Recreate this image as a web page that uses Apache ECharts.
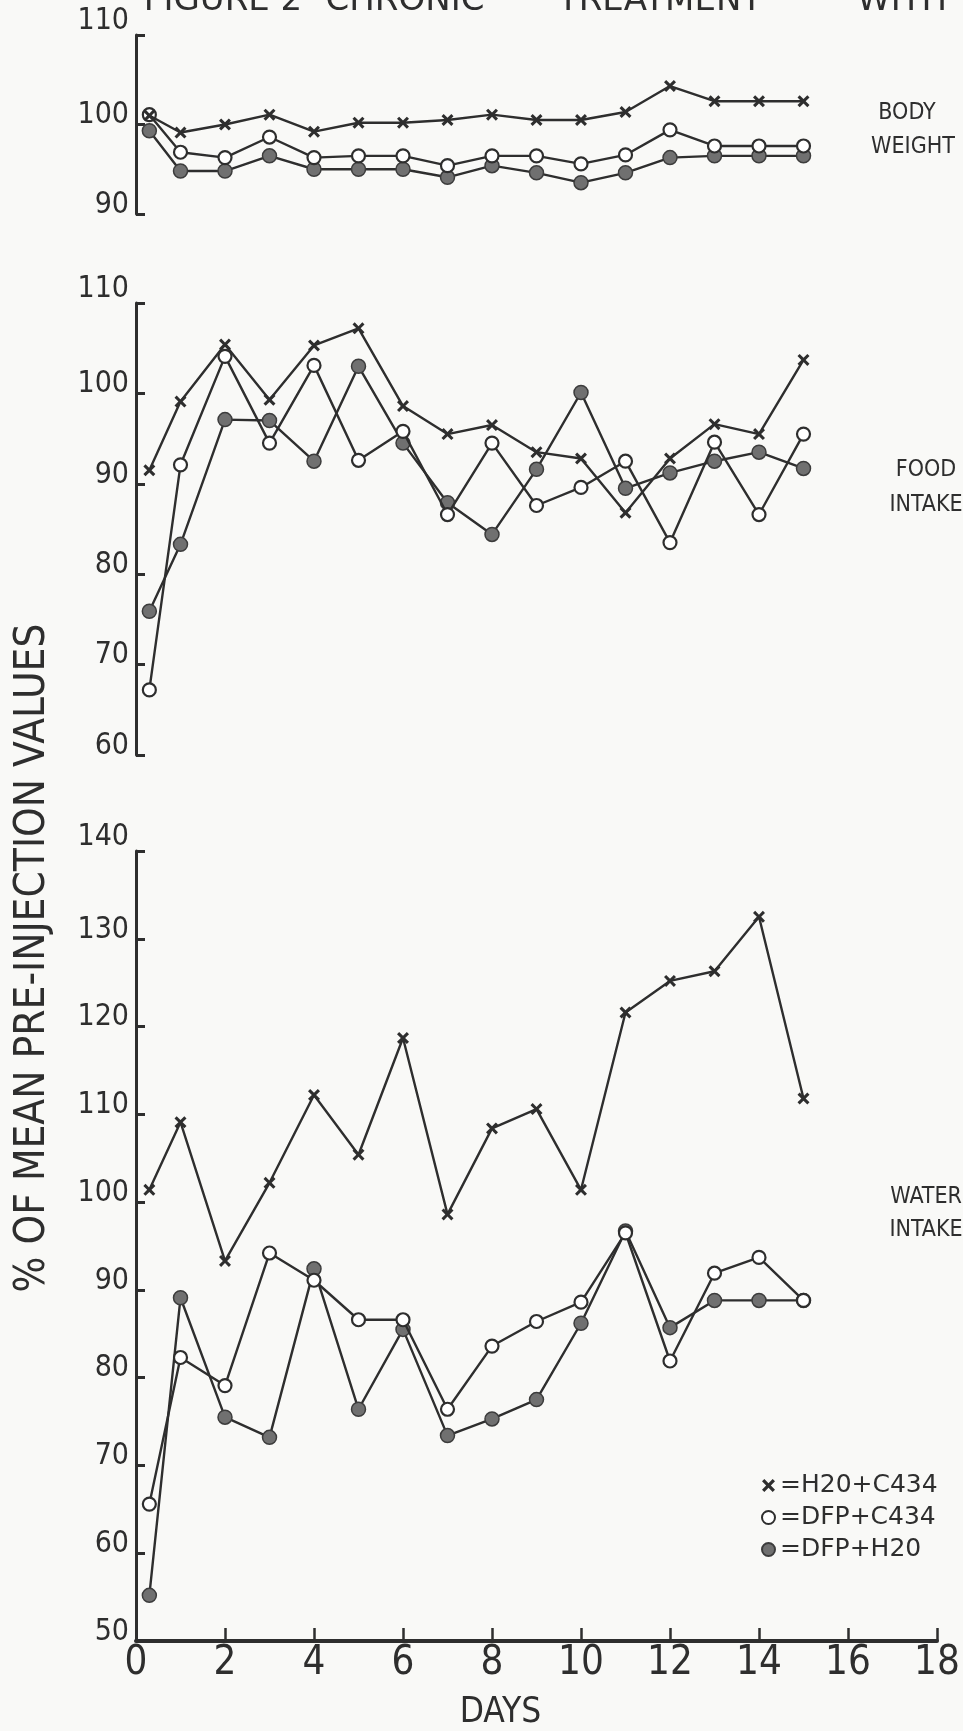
<!DOCTYPE html>
<html><head><meta charset="utf-8">
<script src="https://cdn.jsdelivr.net/npm/echarts@6/dist/echarts.min.js"></script>
<style>html,body{margin:0;padding:0;background:#f9f9f7}#c{width:963px;height:1731px}</style>
</head><body><div id="c"></div>
<script>
// ---- data ----
const days = [0.3, 1, 2, 3, 4, 5, 6, 7, 8, 9, 10, 11, 12, 13, 14, 15];
const seriesNames = ['H20+C434', 'DFP+C434', 'DFP+H20'];
const titleWords = ['FIGURE 2', 'CHRONIC', 'TREATMENT', 'WITH'];
const panelLabels = [['BODY', 'WEIGHT'], ['FOOD', 'INTAKE'], ['WATER', 'INTAKE']];
const yAxisTitle = '% OF MEAN PRE-INJECTION VALUES';
const xAxisTitle = 'DAYS';

const bodyH2OC434 = [101.0, 99.1, 100.0, 101.1, 99.2, 100.2, 100.2, 100.5, 101.1, 100.5, 100.5, 101.4, 104.3, 102.6, 102.6, 102.6];
const bodyDFPC434 = [101.1, 96.9, 96.3, 98.6, 96.3, 96.5, 96.5, 95.4, 96.5, 96.5, 95.6, 96.6, 99.4, 97.6, 97.6, 97.6];
const bodyDFPH2O  = [99.3, 94.8, 94.8, 96.5, 95.0, 95.0, 95.0, 94.1, 95.4, 94.6, 93.5, 94.6, 96.3, 96.5, 96.5, 96.5];

const foodH2OC434 = [91.5, 99.1, 105.4, 99.3, 105.3, 107.2, 98.6, 95.5, 96.5, 93.5, 92.8, 86.8, 92.8, 96.6, 95.5, 103.7];
const foodDFPC434 = [67.2, 92.1, 104.1, 94.5, 103.1, 92.6, 95.8, 86.6, 94.5, 87.6, 89.6, 92.5, 83.5, 94.6, 86.6, 95.5];
const foodDFPH2O  = [75.9, 83.3, 97.1, 97.0, 92.5, 103.0, 94.5, 87.9, 84.4, 91.6, 100.1, 89.5, 91.2, 92.5, 93.5, 91.7];

const waterH2OC434 = [101.4, 109.1, 93.3, 102.2, 112.2, 105.4, 118.7, 98.6, 108.4, 110.6, 101.4, 121.6, 125.2, 126.3, 132.5, 111.8];
const waterDFPC434 = [65.6, 82.3, 79.1, 94.2, 91.1, 86.6, 86.6, 76.4, 83.6, 86.4, 88.6, 96.5, 81.9, 91.9, 93.7, 88.8];
const waterDFPH2O  = [55.2, 89.1, 75.5, 73.2, 92.4, 76.4, 85.5, 73.4, 75.3, 77.5, 86.2, 96.7, 85.7, 88.8, 88.8, 88.8];

// ---- styling ----
const INK = '#2e2e2e';
const BG = '#f9f9f7';
const NARROW = "'DejaVu Sans Condensed','Liberation Sans Narrow',sans-serif";
const WIDE = "'DejaVu Sans','Liberation Sans',sans-serif";
const X_SYM = 'path://M0,1.8L1.8,0L5,3.2L8.2,0L10,1.8L6.8,5L10,8.2L8.2,10L5,6.8L1.8,10L0,8.2L3.2,5Z';

function pts(vals) { return days.map((d, i) => [d, vals[i]]); }
function mk(nameIdx, vals, g) {
  const s = {
    type: 'line', name: seriesNames[nameIdx], xAxisIndex: g, yAxisIndex: g,
    data: pts(vals), showSymbol: true, animation: false, silent: true,
    lineStyle: { color: INK, width: 2.4 }
  };
  if (nameIdx === 0) { s.symbol = X_SYM; s.symbolSize = 12; s.itemStyle = { color: INK }; s.z = 4; }
  if (nameIdx === 1) { s.symbol = 'circle'; s.symbolSize = 13; s.itemStyle = { color: '#ffffff', borderColor: INK, borderWidth: 2.2 }; s.z = 3; }
  if (nameIdx === 2) { s.symbol = 'circle'; s.symbolSize = 14; s.itemStyle = { color: '#707070', borderColor: '#3c3c3c', borderWidth: 1.5 }; s.z = 2; }
  return s;
}

const grids = [
  { left: 136, right: 26, top: 35, height: 179 },
  { left: 136, right: 26, top: 303, height: 452 },
  { left: 136, right: 26, top: 851, height: 809 }
];
const yRanges = [[90, 110], [60, 110], [50, 140]];

const yAxes = yRanges.map((r, i) => ({
  type: 'value', gridIndex: i, min: r[0], max: r[1], interval: 10,
  axisLine: { show: true, lineStyle: { color: INK, width: 3 } },
  axisTick: { show: true, inside: true, length: 9, lineStyle: { color: INK, width: 3 } },
  splitLine: { show: false },
  axisLabel: {
    color: INK, fontSize: 30, fontFamily: NARROW, margin: 7,
    formatter: v => (v === r[1] ? '{t|' + v + '}' : '{n|' + v + '}'),
    rich: {
      t: { fontSize: 30, fontFamily: NARROW, color: INK, padding: [0, 0, 28, 0] },
      n: { fontSize: 30, fontFamily: NARROW, color: INK, padding: [0, 0, 18, 0] }
    }
  }
}));

const xAxes = [0, 1, 2].map(i => ({
  type: 'value', gridIndex: i, min: 0, max: 18, interval: 2,
  show: i === 2,
  axisLine: { show: true, lineStyle: { color: INK, width: 4 } },
  axisTick: { show: true, inside: true, length: 13, lineStyle: { color: INK, width: 2.5 } },
  splitLine: { show: false },
  axisLabel: { color: INK, fontSize: 40, fontFamily: NARROW, margin: 3 },
  name: i === 2 ? xAxisTitle : '', nameLocation: 'middle', nameGap: 54,
  nameTextStyle: { color: INK, fontSize: 35, fontFamily: NARROW, padding: [0, 72, 0, 0] }
}));

const series = [
  mk(2, bodyDFPH2O, 0), mk(1, bodyDFPC434, 0), mk(0, bodyH2OC434, 0),
  mk(2, foodDFPH2O, 1), mk(1, foodDFPC434, 1), mk(0, foodH2OC434, 1),
  mk(2, waterDFPH2O, 2), mk(1, waterDFPC434, 2), mk(0, waterH2OC434, 2)
];

const titleX = [223, 405, 660, 902];
const labelPos = [[[907, 113], [913, 147]], [[926, 470], [926, 505]], [[926, 1197], [926, 1230]]];
const graphics = [];
titleWords.forEach((w, i) => graphics.push({
  type: 'text', x: titleX[i], y: 1,
  style: { text: w, font: "34px " + WIDE, fill: INK, align: 'center', verticalAlign: 'middle' }
}));
panelLabels.forEach((pair, p) => pair.forEach((t, k) => graphics.push({
  type: 'text', x: labelPos[p][k][0], y: labelPos[p][k][1],
  style: { text: t, font: "23px " + NARROW, fill: INK, align: 'center', verticalAlign: 'middle' }
})));
graphics.push({
  type: 'text', x: 33, y: 958, rotation: Math.PI / 2,
  style: { text: yAxisTitle, font: "42px " + NARROW, fill: INK, align: 'center', verticalAlign: 'middle' }
});

const chart = echarts.init(document.getElementById('c'), null, { renderer: 'canvas' });
chart.setOption({
  backgroundColor: BG,
  animation: false,
  grid: grids,
  xAxis: xAxes,
  yAxis: yAxes,
  legend: {
    orient: 'vertical', left: 756, top: 1468, itemGap: 7, itemWidth: 13, itemHeight: 13,
    selectedMode: false,
    data: [
      { name: seriesNames[0], icon: X_SYM },
      { name: seriesNames[1], icon: 'circle' },
      { name: seriesNames[2], icon: 'circle' }
    ],
    formatter: n => '=' + n,
    textStyle: { color: INK, fontSize: 25, fontFamily: WIDE }
  },
  graphic: graphics,
  series: series
});
</script>
</body></html>
